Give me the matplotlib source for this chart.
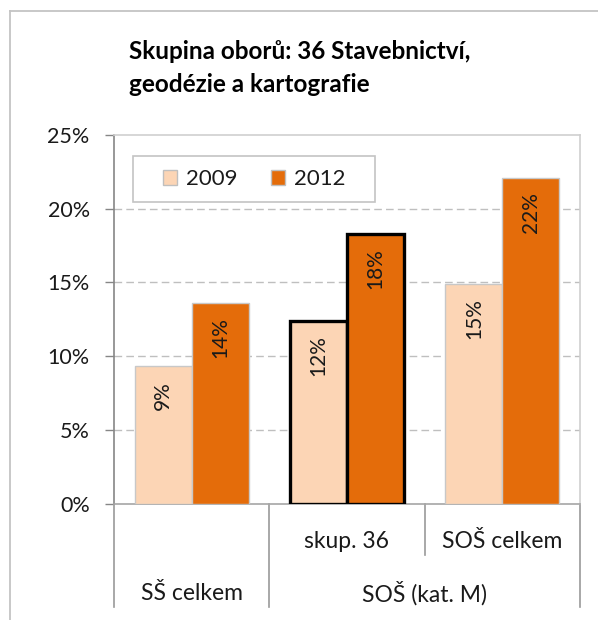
import matplotlib
matplotlib.use('Agg')
import matplotlib.pyplot as plt
from matplotlib.patches import Rectangle
from matplotlib.lines import Line2D

plt.rcParams['font.family'] = ['Lato', 'DejaVu Sans']

title_lines = ['Skupina oborů: 36 Stavebnictví,', 'geodézie a kartografie']
years = ['2009', '2012']
inner_labels = ['', 'skup. 36', 'SOŠ celkem']
outer_labels = ['SŠ celkem', 'SOŠ (kat. M)']
outer_spans = [(0, 1), (1, 3)]
values_2009 = [9.3, 12.4, 14.9]
values_2012 = [13.6, 18.3, 22.1]
highlight = [False, True, False]
yticks = [0, 5, 10, 15, 20, 25]

c2009 = '#FCD5B5'
c2012 = '#E46C0A'
txt = '#1a1a1a'

W, H = 598, 620
fig = plt.figure(figsize=(W / 100, H / 100), dpi=100)
ax = fig.add_axes([114 / W, 1 - 503.5 / H, 466 / W, 368.5 / H])

# outer chart frame (cropped at right and bottom)
fig.add_artist(Line2D([10 / W, 10 / W], [-0.1, 1 - 11 / H], color='#c4c4c4', lw=1.3))
fig.add_artist(Line2D([10 / W, 1.1], [1 - 11 / H, 1 - 11 / H], color='#c4c4c4', lw=1.3))

fig.text(129 / W, 1 - 59 / H, title_lines[0], fontsize=17.5, fontweight='bold', color='black', va='baseline')
fig.text(129 / W, 1 - 92 / H, title_lines[1], fontsize=17.5, fontweight='bold', color='black', va='baseline')

n = len(inner_labels)
x = list(range(n))
bw = 0.367
for i in x:
    ec = 'black' if highlight[i] else '#c8c8c8'
    lw = 2.4 if highlight[i] else 1.0
    zo = 4 if highlight[i] else 3
    ax.bar(i - bw / 2, values_2009[i], bw, color=c2009, edgecolor=ec, linewidth=lw, zorder=zo,
           label=years[0] if i == 0 else None)
    ax.bar(i + bw / 2, values_2012[i], bw, color=c2012, edgecolor=ec, linewidth=lw, zorder=zo,
           label=years[1] if i == 0 else None)
    for v, xx in [(values_2009[i], i - bw / 2), (values_2012[i], i + bw / 2)]:
        ax.annotate(f'{round(v)}%', (xx, v), xytext=(0, -10.5), textcoords='offset points',
                    rotation=90, ha='center', va='top', fontsize=15, color=txt, zorder=6)

ax.set_xlim(-0.5, n - 0.5)
ax.set_ylim(0, 25)
ax.set_yticks(yticks)
ax.set_yticklabels([f'{t}%' for t in yticks], fontsize=15.5, color=txt)
ax.tick_params(axis='y', length=6.5, width=1, color='#868686', pad=11)
ax.set_xticks([])

for t in yticks[1:-1]:
    ax.axhline(t, color='#bfbfbf', lw=1.0, dashes=(5.5, 3), zorder=1)

ax.spines['left'].set_color('#868686')
ax.spines['bottom'].set_color('#a6a6a6')
ax.spines['top'].set_color('#cfcfcf')
ax.spines['right'].set_color('#cfcfcf')
for s in ax.spines.values():
    s.set_linewidth(1.2)

# multi-level category axis
tr = ax.get_xaxis_transform()
for i in range(n + 1):
    xb = i - 0.5
    long_line = xb in [s[0] - 0.5 for s in outer_spans] or xb == n - 0.5
    y_end = -0.281 if long_line else -0.140
    ax.plot([xb, xb], [0, y_end], transform=tr, clip_on=False, color='#9a9a9a', lw=1.2)
for i, lab in enumerate(inner_labels):
    if lab:
        ax.text(i, -0.102, lab, transform=tr, ha='center', va='center', fontsize=16.5, color=txt)
for lab, (a, b) in zip(outer_labels, outer_spans):
    ax.text((a + b - 1) / 2, -0.243, lab, transform=tr, ha='center', va='center', fontsize=16.5, color=txt)

# legend
ax.add_patch(Rectangle((0.041, 0.818), 0.520, 0.125, transform=ax.transAxes, fill=True,
                       facecolor='white', edgecolor='#c4c4c4', lw=1.2, zorder=7))
leg = ax.legend(loc='center', bbox_to_anchor=(0.301, 0.880), ncol=2, frameon=False, fontsize=16,
                handlelength=0.63, handleheight=0.63, handletextpad=0.4, columnspacing=1.5)
leg.set_zorder(8)
for h in leg.legend_handles:
    h.set_edgecolor('#bfbfbf')
    h.set_linewidth(1.0)
for t in leg.get_texts():
    t.set_color(txt)

fig.savefig('out.png', dpi=100)
